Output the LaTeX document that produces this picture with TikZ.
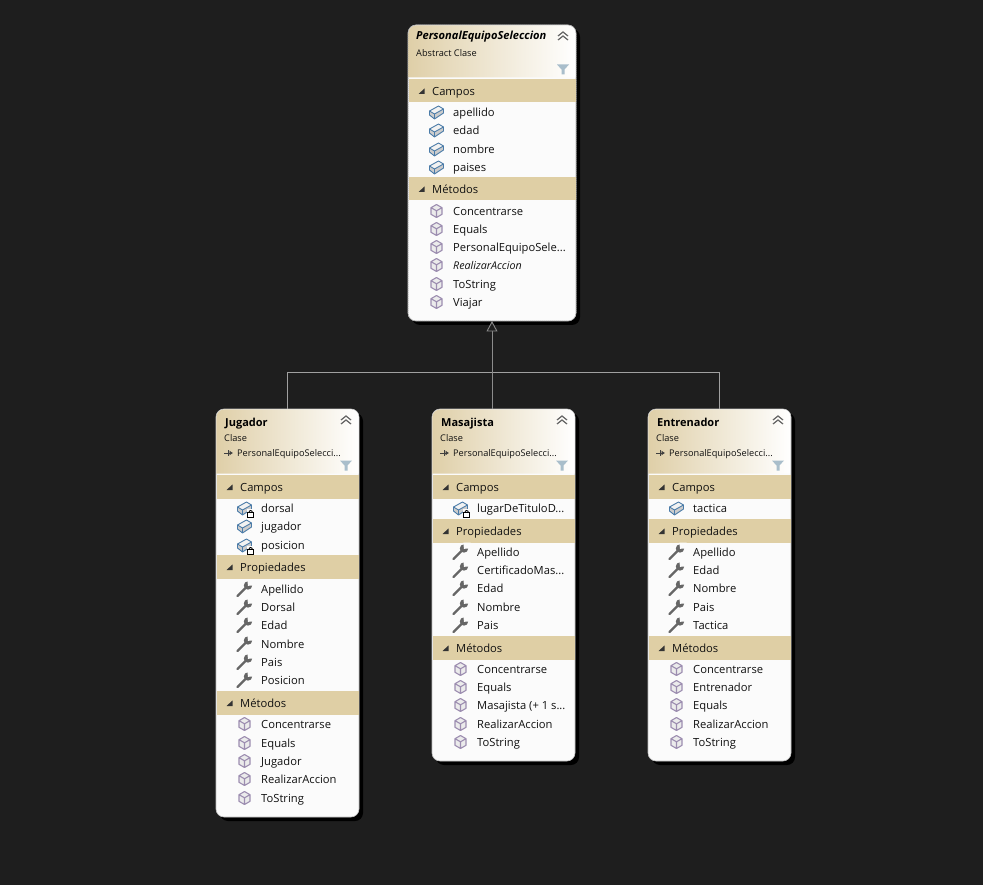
\documentclass[tikz,border=0pt]{standalone}
\usepackage{fontspec}
\setmainfont{Open Sans}
\usetikzlibrary{arrows.meta}
\definecolor{canvas}{HTML}{1E1E1E}
\definecolor{band}{HTML}{DFCFA5}
\definecolor{hdr}{HTML}{DFCFA8}
\definecolor{body}{HTML}{FBFBFB}
\definecolor{wire}{HTML}{A0A0A0}
\definecolor{wiredark}{HTML}{8C8C8C}
\definecolor{fieldblue}{HTML}{4A7BA8}
\definecolor{cubepurple}{HTML}{9C8DB0}
\definecolor{filtercol}{HTML}{A9BECB}
\definecolor{ink}{HTML}{111111}
\newcommand{\fbody}{\fontsize{11.2}{13}\selectfont}
\newcommand{\fsub}{\fontsize{9.2}{10}\selectfont}
\newcommand{\ftitle}{\fontsize{11}{13}\selectfont\bfseries}
\newcounter{rown}
\tikzset{
  classbox/.style={draw=white!75!black,line width=.6pt,fill=body,rounded corners=8pt,inner sep=0pt,outer sep=0pt},
  rowlabel/.style={anchor=base west,inner sep=0pt,text=ink,font=\fbody},
  sublabel/.style={anchor=base west,inner sep=0pt,text=ink,font=\fsub},
  titlelabel/.style={anchor=base west,inner sep=0pt,text=black,font=\ftitle},
  wireline/.style={draw=wire,line width=.8pt},
  pics/fieldicon/.style={code={
    \fill[white!80!black] (-7,-1)--(2,-6)--(7,-3)--(7,1)--(-2,7)--(-7,3)--cycle;
    \fill[white!95!black] (-7,-1)--(2,-6)--(7,-3)--(-2,2)--cycle;
    \draw[fieldblue,line width=.9pt,line join=round] (-7,-1)--(2,-6)--(7,-3)--(7,1)--(-2,7)--(-7,3)--cycle (-7,-1)--(-2,2)--(7,-3) (-2,2)--(-2,7);
  }},
  pics/lockedfield/.style={code={
    \pic {fieldicon};
    \fill[body] (2,1) rectangle (10,10);
    \draw[black,line width=.9pt] (4.5,4.5) arc[start angle=180,end angle=0,radius=1.7,y radius=-2];
    \draw[black,line width=.9pt,fill=white] (3.2,4.8) rectangle (9.2,9.2);
  }},
  pics/cubeicon/.style={code={
    \fill[white!92!black] (0,-6.5)--(5.5,-3.3)--(5.5,3.3)--(0,6.5)--(-5.5,3.3)--(-5.5,-3.3)--cycle;
    \draw[cubepurple,line width=1.1pt,line join=round] (0,-6.5)--(5.5,-3.3)--(5.5,3.3)--(0,6.5)--(-5.5,3.3)--(-5.5,-3.3)--cycle (-5.5,-3.3)--(0,-.2)--(5.5,-3.3) (0,-.2)--(0,6.5);
  }},
  pics/wrenchicon/.style={code={
    \draw[white!40!black,line width=2.4pt,line cap=round] (-7,7)--(2,-2);
    \fill[white!40!black] (3.5,-3.5) circle[radius=4.2];
    \fill[body] (3.5,-3.2)--(2.8,-9.5)--(10,-9.5)--(10,-3.5)--cycle;
  }},
  pics/chevrons/.style={code={
    \draw[white!40!black,line width=1.2pt] (-5,-.5)--(0,-4.5)--(5,-.5) (-5,3.5)--(0,-.5)--(5,3.5);
  }},
  pics/filtericon/.style={code={
    \fill[filtercol] (-6,-5)--(6,-5)--(1.5,0)--(1.5,5)--(-1.5,5)--(-1.5,0)--cycle;
  }},
  pics/baseref/.style={code={
    \draw[white!25!black,line width=.8pt,-{Latex[length=3.5pt,width=5pt]}] (-5,0)--(4,0);
    \draw[white!25!black,line width=.8pt] (-1,-3)--(-1,3);
  }},
}
% \classframe{name}{left}{top}{width}{height}{header bottom}
\newcommand{\classframe}[6]{%
  \pgfmathsetmacro{\cx}{#2+#4/2}\pgfmathsetmacro{\cy}{#3+#5/2}%
  \pgfmathsetmacro{\rx}{#2+#4}\pgfmathsetmacro{\by}{#3+#5}%
  \fill[black,rounded corners=8pt] (#2+4,#3+4) rectangle (\rx+4,\by+4);
  \node[classbox,minimum width=#4,minimum height=#5] (#1) at (\cx,\cy) {};
  \shade[left color=hdr,right color=white] (#2+.4,#6) [rounded corners=8pt] -- (#2+.4,#3+.4) -- (\rx-.4,#3+.4) [sharp corners] -- (\rx-.4,#6) -- cycle;
  \pic at (\rx-13,#3+11.5) {chevrons};
  \pic at (\rx-13,#6-8) {filtericon};
}
\newcommand{\boxleft}{0}\newcommand{\boxwidth}{0}
\newcommand{\useframe}[2]{\renewcommand{\boxleft}{#1}\renewcommand{\boxwidth}{#2}}
% \bandrow{top}{text}
\newcommand{\bandrow}[2]{%
  \stepcounter{rown}%
  \fill[band] (\boxleft+.5,#1) rectangle (\boxleft+\boxwidth-.5,#1+23.5);
  \fill[black!80] (\boxleft+10.5,#1+15) -- (\boxleft+16.5,#1+15) -- (\boxleft+16.5,#1+9.5) -- cycle;
  \node[rowlabel] (row\arabic{rown}) at (\boxleft+24,#1+16.5) {#2};
}
% \itemrow{centre y}{icon}{text}
\newcommand{\itemrow}[3]{%
  \stepcounter{rown}%
  \pic at (\boxleft+28.5,#1) {#2};
  \node[rowlabel] (row\arabic{rown}) at (\boxleft+45,#1+4.5) {#3};
}
\newcommand{\headtext}[5]{%
  \stepcounter{rown}\node[titlelabel] (row\arabic{rown}) at (#1+9,#2) {#3};
  \stepcounter{rown}\node[sublabel] (row\arabic{rown}) at (#1+8,#4) {#5};
}
\newcommand{\baseref}[1]{%
  \pic at (#1+13,453) {baseref};
  \stepcounter{rown}\node[sublabel] (row\arabic{rown}) at (#1+21,456.5) {PersonalEquipoSelecci...};
}
\begin{document}
\begin{tikzpicture}[x=1pt,y=-1pt]
\fill[canvas] (0,0) rectangle (983,885);
\useasboundingbox (0,0) rectangle (983,885);

% ---- PersonalEquipoSeleccion
\classframe{personal}{408}{25}{168}{296}{77.5}
\draw[white!65!black,line width=.5pt,dash pattern=on 1pt off 1pt,rounded corners=8pt] (personal.south west) rectangle (personal.north east);
\useframe{408}{168}
\stepcounter{rown}\node[titlelabel,font=\fontsize{11.1}{13}\selectfont\bfseries\itshape] (row\arabic{rown}) at (416,40) {PersonalEquipoSeleccion};
\stepcounter{rown}\node[sublabel] (row\arabic{rown}) at (416,57) {Abstract Clase};
\bandrow{79}{Campos}
\itemrow{112}{fieldicon}{apellido}
\itemrow{130}{fieldicon}{edad}
\itemrow{149}{fieldicon}{nombre}
\itemrow{167}{fieldicon}{paises}
\bandrow{177}{Métodos}
\itemrow{211}{cubeicon}{Concentrarse}
\itemrow{229}{cubeicon}{Equals}
\itemrow{247}{cubeicon}{PersonalEquipoSele...}
\itemrow{265}{cubeicon}{\itshape\fontsize{10.7}{12}\selectfont RealizarAccion}
\itemrow{284}{cubeicon}{ToString}
\itemrow{302}{cubeicon}{Viajar}

% ---- Jugador
\classframe{jugador}{216}{409}{143}{408}{473.5}
\useframe{216}{143}
\headtext{216}{426}{Jugador}{441}{Clase}
\baseref{216}
\bandrow{475}{Campos}
\itemrow{508}{lockedfield}{dorsal}
\itemrow{526}{fieldicon}{jugador}
\itemrow{545}{lockedfield}{posicion}
\bandrow{555}{Propiedades}
\itemrow{589}{wrenchicon}{Apellido}
\itemrow{607}{wrenchicon}{Dorsal}
\itemrow{625}{wrenchicon}{Edad}
\itemrow{644}{wrenchicon}{Nombre}
\itemrow{662}{wrenchicon}{Pais}
\itemrow{680}{wrenchicon}{Posicion}
\bandrow{691}{Métodos}
\itemrow{724}{cubeicon}{Concentrarse}
\itemrow{743}{cubeicon}{Equals}
\itemrow{761}{cubeicon}{Jugador}
\itemrow{779}{cubeicon}{RealizarAccion}
\itemrow{798}{cubeicon}{ToString}

% ---- Masajista
\classframe{masajista}{432}{409}{143}{352}{473.5}
\useframe{432}{143}
\headtext{432}{426}{Masajista}{441}{Clase}
\baseref{432}
\bandrow{475}{Campos}
\itemrow{508}{lockedfield}{lugarDeTituloD...}
\bandrow{519}{Propiedades}
\itemrow{552}{wrenchicon}{Apellido}
\itemrow{570}{wrenchicon}{CertificadoMas...}
\itemrow{588}{wrenchicon}{Edad}
\itemrow{607}{wrenchicon}{Nombre}
\itemrow{625}{wrenchicon}{Pais}
\bandrow{636}{Métodos}
\itemrow{669}{cubeicon}{Concentrarse}
\itemrow{687}{cubeicon}{Equals}
\itemrow{705}{cubeicon}{Masajista (+ 1 s...}
\itemrow{724}{cubeicon}{RealizarAccion}
\itemrow{742}{cubeicon}{ToString}

% ---- Entrenador
\classframe{entrenador}{648}{409}{143}{352}{473.5}
\useframe{648}{143}
\headtext{648}{426}{Entrenador}{441}{Clase}
\baseref{648}
\bandrow{475}{Campos}
\itemrow{508}{fieldicon}{tactica}
\bandrow{519}{Propiedades}
\itemrow{552}{wrenchicon}{Apellido}
\itemrow{570}{wrenchicon}{Edad}
\itemrow{588}{wrenchicon}{Nombre}
\itemrow{607}{wrenchicon}{Pais}
\itemrow{625}{wrenchicon}{Tactica}
\bandrow{636}{Métodos}
\itemrow{669}{cubeicon}{Concentrarse}
\itemrow{687}{cubeicon}{Entrenador}
\itemrow{705}{cubeicon}{Equals}
\itemrow{724}{cubeicon}{RealizarAccion}
\itemrow{742}{cubeicon}{ToString}

% ---- Connectors
\coordinate (bus) at (491.5,372);
\draw[wireline] (jugador.north) |- (bus);
\draw[wireline] (entrenador.north) |- (bus);
\draw[draw=wiredark,line width=.9pt,-{Triangle[open,length=10.5pt,width=11pt,fill=canvas]}] (personal.south |- masajista.north) -- (personal.south);
\end{tikzpicture}
\end{document}
